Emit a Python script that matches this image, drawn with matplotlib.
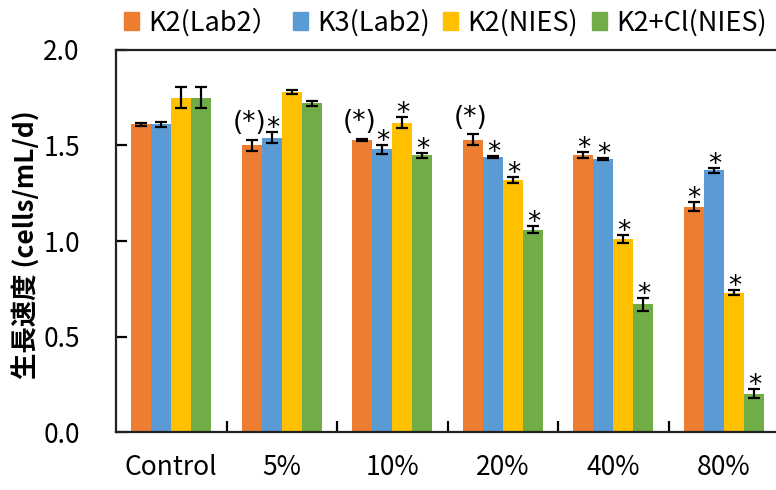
import numpy as np
import matplotlib.pyplot as plt
from matplotlib.patches import Patch
from matplotlib.ticker import MultipleLocator

plt.rcParams['font.family'] = ['Noto Sans CJK JP', 'DejaVu Sans']

# データ
categories = ['Control', '5%', '10%', '20%', '40%', '80%']
series_names = ['K2(Lab2）', 'K3(Lab2)', 'K2(NIES)', 'K2+Cl(NIES)']
k2_lab2 = [1.61, 1.50, 1.53, 1.53, 1.45, 1.18]
k3_lab2 = [1.61, 1.54, 1.48, 1.44, 1.43, 1.37]
k2_nies = [1.75, 1.78, 1.62, 1.32, 1.01, 0.73]
k2cl_nies = [1.75, 1.72, 1.45, 1.06, 0.67, 0.20]
k2_lab2_err = [0.007, 0.028, 0.005, 0.029, 0.015, 0.024]
k3_lab2_err = [0.013, 0.029, 0.023, 0.005, 0.007, 0.013]
k2_nies_err = [0.054, 0.012, 0.029, 0.015, 0.023, 0.014]
k2cl_nies_err = [0.054, 0.013, 0.013, 0.017, 0.034, 0.024]
# 有意差マーク
k2_lab2_sig = ['', '(*)', '(*)', '(*)', '*', '*']
k3_lab2_sig = ['', '*', '*', '*', '*', '*']
k2_nies_sig = ['', '', '*', '*', '*', '*']
k2cl_nies_sig = ['', '', '*', '*', '*', '*']

values = [k2_lab2, k3_lab2, k2_nies, k2cl_nies]
errors = [k2_lab2_err, k3_lab2_err, k2_nies_err, k2cl_nies_err]
marks = [k2_lab2_sig, k3_lab2_sig, k2_nies_sig, k2cl_nies_sig]
colors = ['#ED7D31', '#5B9BD5', '#FFC000', '#70AD47']

fig = plt.figure(figsize=(7.76, 4.9), dpi=100)
ax = fig.add_axes([116 / 776, 58 / 490, 663 / 776, 382 / 490])

x = np.arange(len(categories))
w = 0.182
for i in range(4):
    pos = x + (i - 1.5) * w
    ax.bar(pos, values[i], w, color=colors[i], zorder=2)
    ax.errorbar(pos, values[i], yerr=errors[i], fmt='none', ecolor='black',
                elinewidth=1.6, capsize=4.5, capthick=1.6, zorder=3)
    for p, v, e, m in zip(pos, values[i], errors[i], marks[i]):
        if not m:
            continue
        off = 7 if m.startswith('(') else -3
        dx = -1.5 if m.startswith('(') else 0.5
        ax.annotate(m, (p, v + e), xytext=(dx, off), textcoords='offset points',
                    ha='center', va='baseline', fontsize=19, color='black',
                    family='DejaVu Sans', annotation_clip=False)

ax.set_xlim(-0.5, len(categories) - 0.5)
ax.set_ylim(0, 2.0)
ax.yaxis.set_major_locator(MultipleLocator(0.5))
ax.set_yticklabels([f'{t:.1f}' for t in ax.get_yticks()])
ax.set_xticks(x)
ax.set_xticklabels(categories)
ax.set_xticks(np.arange(0.5, len(categories) - 0.5), minor=True)
ax.tick_params(axis='x', which='major', length=0, pad=16, labelsize=19)
ax.tick_params(axis='x', which='minor', direction='in', length=8, width=1.6)
ax.tick_params(axis='y', direction='in', length=8, width=1.6, pad=26, labelsize=19)

for s in ['left', 'bottom', 'top']:
    ax.spines[s].set_linewidth(1.6)
    ax.spines[s].set_color('#222222')
ax.spines['right'].set_visible(False)

ax.set_ylabel('生長速度 (cells/mL/d)', fontsize=19, fontweight='bold')
ax.yaxis.set_label_coords(-0.113, 0.49)

handles = [Patch(color=c) for c in colors]
fig.legend(handles, series_names, loc='center left', bbox_to_anchor=(124 / 776, 1 - 22 / 490),
           ncol=4, frameon=False, fontsize=19.5, handlelength=0.55, handleheight=0.65,
           handletextpad=0.35, columnspacing=0.5, borderaxespad=0, borderpad=0)

fig.savefig('out.png', dpi=100)
